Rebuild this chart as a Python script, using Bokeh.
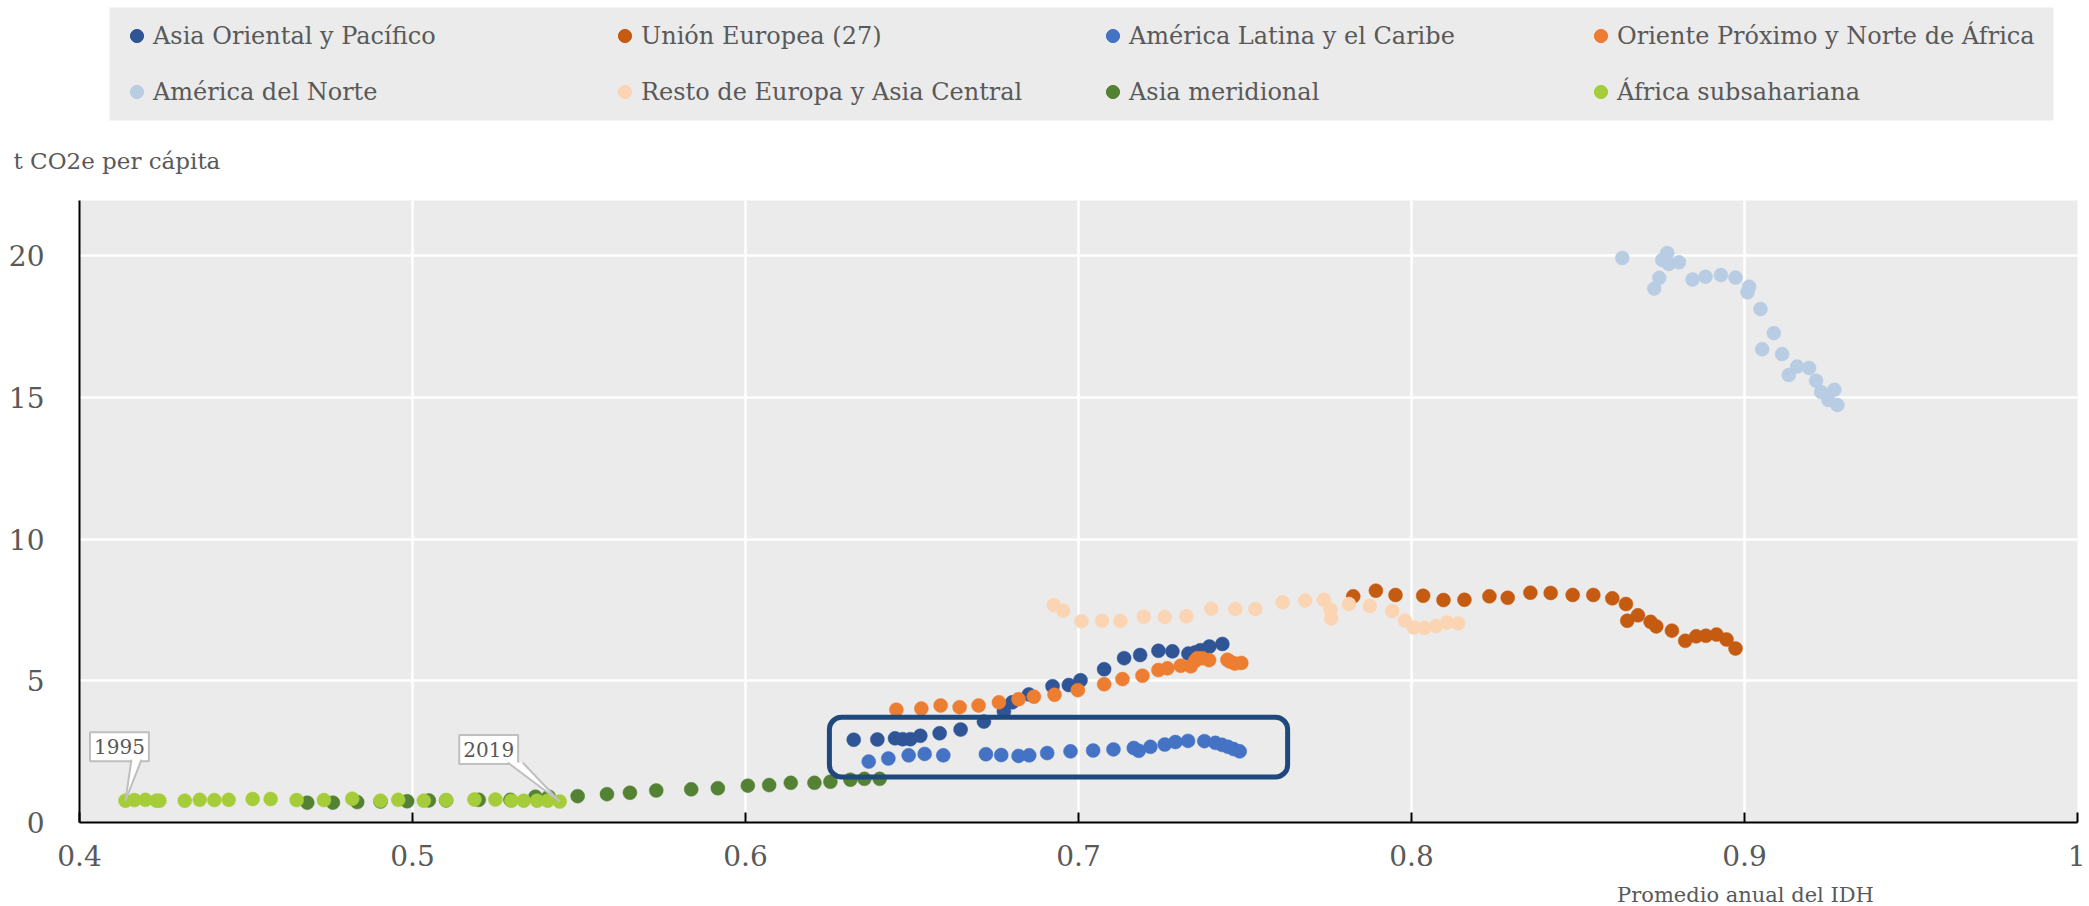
from bokeh.plotting import figure
from bokeh.layouts import column
from bokeh.models import (ColumnDataSource, Legend, LegendItem, FixedTicker, Label,
                          BoxAnnotation, Range1d)
from bokeh.embed import file_html
from bokeh.resources import INLINE

# ---------------- data ----------------
series_names = ["Asia Oriental y Pacífico", "Unión Europea (27)", "América Latina y el Caribe",
                "Oriente Próximo y Norte de África", "América del Norte",
                "Resto de Europa y Asia Central", "Asia meridional", "África subsahariana"]
series_colors = ["#2F5597", "#C55A11", "#4472C4", "#ED7D31", "#B8CCE4", "#FBD4B4", "#548235", "#A5CD39"]

eap_x = [0.6325, 0.6396, 0.6449, 0.6472, 0.6495, 0.6525, 0.6583, 0.6646, 0.6716, 0.6776, 0.6801, 0.6851,
         0.6922, 0.6971, 0.7006, 0.7077, 0.7137, 0.7185, 0.7240, 0.7282, 0.7330, 0.7350, 0.7366, 0.7393, 0.7432]
eap_y = [2.92, 2.93, 2.97, 2.94, 2.94, 3.06, 3.15, 3.28, 3.56, 3.92, 4.24, 4.52,
         4.81, 4.85, 5.02, 5.41, 5.80, 5.91, 6.06, 6.04, 5.96, 6.00, 6.08, 6.21, 6.30]

eu_x = [0.7825, 0.7893, 0.7952, 0.8035, 0.8096, 0.8159, 0.8234, 0.8289, 0.8357, 0.8418, 0.8484, 0.8546,
        0.8603, 0.8644, 0.8648, 0.8680, 0.8718, 0.8735, 0.8782, 0.8822, 0.8855, 0.8884, 0.8916, 0.8946, 0.8973]
eu_y = [7.98, 8.18, 8.03, 8.00, 7.85, 7.86, 7.98, 7.93, 8.11, 8.10, 8.03, 8.03,
        7.91, 7.71, 7.12, 7.31, 7.08, 6.92, 6.77, 6.41, 6.57, 6.59, 6.63, 6.46, 6.14]

lac_x = [0.6370, 0.6429, 0.6490, 0.6538, 0.6594, 0.6722, 0.6768, 0.6820, 0.6852, 0.6906, 0.6976, 0.7044,
         0.7105, 0.7166, 0.7181, 0.7216, 0.7259, 0.7291, 0.7329, 0.7378, 0.7411, 0.7431, 0.7449, 0.7466, 0.7484]
lac_y = [2.15, 2.26, 2.37, 2.42, 2.37, 2.41, 2.38, 2.35, 2.37, 2.45, 2.51, 2.54,
         2.58, 2.63, 2.53, 2.67, 2.75, 2.84, 2.88, 2.87, 2.81, 2.74, 2.67, 2.59, 2.51]

mena_x = [0.6453, 0.6528, 0.6586, 0.6643, 0.6700, 0.6761, 0.6820, 0.6866, 0.6928, 0.6998, 0.7077, 0.7132,
          0.7192, 0.7240, 0.7267, 0.7307, 0.7337, 0.7350, 0.7357, 0.7372, 0.7392, 0.7447, 0.7455, 0.7469, 0.7489]
mena_y = [3.98, 4.02, 4.13, 4.07, 4.13, 4.24, 4.35, 4.44, 4.51, 4.67, 4.88, 5.06,
          5.18, 5.38, 5.44, 5.53, 5.51, 5.70, 5.80, 5.80, 5.73, 5.74, 5.68, 5.61, 5.63]

na_x = [0.8633, 0.8768, 0.8753, 0.8773, 0.8803, 0.8744, 0.8729, 0.8844, 0.8883, 0.8929, 0.8973, 0.9014,
        0.9009, 0.9048, 0.9088, 0.9053, 0.9113, 0.9158, 0.9194, 0.9133, 0.9215, 0.9230, 0.9270, 0.9252, 0.9279]
na_y = [19.92, 20.10, 19.85, 19.71, 19.77, 19.22, 18.84, 19.16, 19.26, 19.32, 19.23, 18.91,
        18.71, 18.12, 17.27, 16.70, 16.53, 16.09, 16.04, 15.79, 15.59, 15.19, 15.27, 14.91, 14.73]

rec_x = [0.6926, 0.6954, 0.7009, 0.7071, 0.7126, 0.7196, 0.7259, 0.7324, 0.7399, 0.7471, 0.7531, 0.7613,
         0.7681, 0.7737, 0.7757, 0.7759, 0.7812, 0.7875, 0.7942, 0.7980, 0.8007, 0.8039, 0.8074, 0.8107, 0.8140]
rec_y = [7.67, 7.47, 7.10, 7.12, 7.11, 7.26, 7.25, 7.28, 7.54, 7.53, 7.53, 7.77,
         7.83, 7.86, 7.51, 7.20, 7.71, 7.64, 7.46, 7.12, 6.88, 6.87, 6.93, 7.06, 7.02]

sa_x = [0.4684, 0.4761, 0.4834, 0.4904, 0.4984, 0.5049, 0.5101, 0.5199, 0.5294, 0.5369, 0.5409, 0.5496,
        0.5584, 0.5653, 0.5732, 0.5837, 0.5917, 0.6007, 0.6071, 0.6136, 0.6207, 0.6255, 0.6315, 0.6357, 0.6403]
sa_y = [0.70, 0.70, 0.72, 0.74, 0.75, 0.78, 0.78, 0.80, 0.80, 0.91, 0.91, 0.93,
        1.00, 1.05, 1.13, 1.17, 1.21, 1.30, 1.32, 1.40, 1.40, 1.44, 1.51, 1.54, 1.54]

ssa_x = [0.4138, 0.4165, 0.4198, 0.4231, 0.4240, 0.4316, 0.4361, 0.4405, 0.4448, 0.4520, 0.4574, 0.4652,
         0.4734, 0.4819, 0.4904, 0.4957, 0.5034, 0.5101, 0.5186, 0.5249, 0.5297, 0.5334, 0.5374, 0.5406, 0.5442]
ssa_y = [0.77, 0.79, 0.80, 0.77, 0.77, 0.77, 0.80, 0.79, 0.80, 0.83, 0.83, 0.79,
         0.79, 0.84, 0.77, 0.80, 0.77, 0.79, 0.81, 0.81, 0.77, 0.77, 0.77, 0.77, 0.74]

series_x = [eap_x, eu_x, lac_x, mena_x, na_x, rec_x, sa_x, ssa_x]
series_y = [eap_y, eu_y, lac_y, mena_y, na_y, rec_y, sa_y, ssa_y]

x_ticks = [0.4, 0.5, 0.6, 0.7, 0.8, 0.9, 1.0]
y_ticks = [0, 5, 10, 15, 20]
x_start, x_end = 0.4, 1.0
y_start, y_end = 0.0, 21.95

y_title = "t CO2e per cápita"
x_title = "Promedio anual del IDH"
callout_texts = ["1995", "2019"]
callout_index = [0, len(ssa_x) - 1]       # first and last point of África subsahariana
highlight_x = [0.6252, 0.7628]            # highlighted group (rounded box)
highlight_y = [1.61, 3.71]

# ---------------- layout constants (page pixels) ----------------
FONT = "DejaVu Serif"
TEXT = "#595959"
W = 2085
TOP_H = 200
ML, MR, MB = 79, 8, 58
FW, FH = W - ML - MR, 622
MAIN_H = FH + MB
BOT_H = 26
PX_X = FW / (x_end - x_start)
PX_Y = FH / (y_end - y_start)
LEGEND_BOX = (109, 2053, 7, 120)   # left, right, top, bottom of the grey legend panel


def bare_figure(height):
    f = figure(width=W, height=height, output_backend="svg", toolbar_location=None,
               x_axis_type=None, y_axis_type=None,
               x_range=Range1d(0, W), y_range=Range1d(0, height),
               min_border_left=0, min_border_right=0, min_border_top=0, min_border_bottom=0)
    f.outline_line_color = None
    f.background_fill_color = "white"
    f.border_fill_color = "white"
    f.grid.visible = False
    f.frame_align = False
    return f


# ---------------- main chart ----------------
p = figure(width=W, height=MAIN_H, output_backend="svg", toolbar_location=None,
           x_range=Range1d(x_start, x_end), y_range=Range1d(y_start, y_end),
           min_border_left=ML, min_border_right=MR, min_border_top=0, min_border_bottom=MB)
p.frame_align = False
p.background_fill_color = "#EBEBEB"
p.border_fill_color = "white"
p.outline_line_color = None

p.xgrid.ticker = FixedTicker(ticks=x_ticks)
p.ygrid.ticker = FixedTicker(ticks=y_ticks)
for g in (p.xgrid, p.ygrid):
    g.grid_line_color = "white"
    g.grid_line_width = 2.5

p.xaxis.ticker = FixedTicker(ticks=x_ticks)
p.yaxis.ticker = FixedTicker(ticks=y_ticks)
p.xaxis.major_label_overrides = {1: "1"}
for ax in (p.xaxis, p.yaxis):
    ax.axis_line_color = "black"
    ax.axis_line_width = 2
    ax.minor_tick_line_color = None
    ax.major_label_text_font = FONT
    ax.major_label_text_font_size = "28px"
    ax.major_label_text_color = TEXT
p.xaxis.major_tick_in = 10
p.xaxis.major_tick_out = 0
p.xaxis.major_tick_line_width = 2
p.xaxis.major_tick_line_color = "black"
p.xaxis.major_label_standoff = 22
p.yaxis.major_tick_line_color = None
p.yaxis.major_label_standoff = 29
p.yaxis.major_label_text_align = "center"

renderers = []
for name, color, xs, ys in zip(series_names, series_colors, series_x, series_y):
    src = ColumnDataSource(dict(x=xs, y=ys))
    r = p.scatter("x", "y", source=src, size=14, fill_color=color, line_color=color,
                  line_width=0.5)
    renderers.append(r)

# highlight box
p.add_layout(BoxAnnotation(left=highlight_x[0], right=highlight_x[1],
                           bottom=highlight_y[0], top=highlight_y[1],
                           fill_alpha=0, line_color="#1F497D", line_alpha=1,
                           line_width=5, border_radius=12))

# callouts (offsets in screen px)
callout_dx = [-6, -71]
callout_dy = [54, 52]
base_dx = [(6, 16), (-52, -37)]
for txt, idx, dx, dy, (b0, b1) in zip(callout_texts, callout_index, callout_dx, callout_dy, base_dx):
    px, py = ssa_x[idx], ssa_y[idx]
    p.add_layout(Label(x=px, y=py, x_offset=dx, y_offset=dy, text=txt, text_font=FONT,
                       text_font_size="20px", text_color=TEXT, text_align="center",
                       text_baseline="middle", background_fill_color="white",
                       border_line_color="#BFBFBF", border_line_width=2, padding=(4, 7)))
    base_y = py + (dy - 13) / PX_Y
    tx = [px, px + b0 / PX_X, px + b1 / PX_X]
    ty = [py, base_y, base_y]
    p.patch(tx, ty, fill_color="white", line_color=None, level="overlay")
    p.segment(x0=[px, px], y0=[py, py], x1=[tx[1], tx[2]], y1=[ty[1], ty[2]],
              line_color="#BFBFBF", line_width=2, level="overlay")

# ---------------- top strip: legend + y title ----------------
top = bare_figure(TOP_H)
lb_l, lb_r, lb_t, lb_b = LEGEND_BOX
top.quad(left=[lb_l], right=[lb_r], top=[TOP_H - lb_t], bottom=[TOP_H - lb_b],
         fill_color="#EBEBEB", line_color=None)
# legend proxies: same series, on an off-screen range so that only the legend swatches show
top.extra_x_ranges = {"proxy": Range1d(-10, -9)}
top.extra_y_ranges = {"proxy": Range1d(-10, -9)}
proxies = []
for color, xs, ys in zip(series_colors, series_x, series_y):
    proxies.append(top.scatter(x=xs, y=ys, size=14, fill_color=color, line_color=color,
                               x_range_name="proxy", y_range_name="proxy"))
legend = Legend(items=[LegendItem(label=n, renderers=[r]) for n, r in zip(series_names, proxies)],
                orientation="horizontal", ncols=4, location=(120, 92), margin=0, padding=12,
                spacing=23, glyph_width=33, glyph_height=33, label_standoff=0,
                label_width=432, label_height=33,
                label_text_font=FONT, label_text_font_size="24px", label_text_color=TEXT,
                background_fill_alpha=0, border_line_color=None)
top.add_layout(legend, "center")
top.add_layout(Label(x=13, y=TOP_H - 160, text=y_title, text_font=FONT, text_font_size="23px",
                     text_color=TEXT, text_align="left", text_baseline="middle"))

# ---------------- bottom strip: x title ----------------
bot = bare_figure(BOT_H)
bot.add_layout(Label(x=1745, y=BOT_H - 14, text=x_title, text_font=FONT, text_font_size="21px",
                     text_color=TEXT, text_align="center", text_baseline="middle"))

layout = column(top, p, bot, spacing=0)
open("out.html", "w").write(file_html(layout, INLINE))
